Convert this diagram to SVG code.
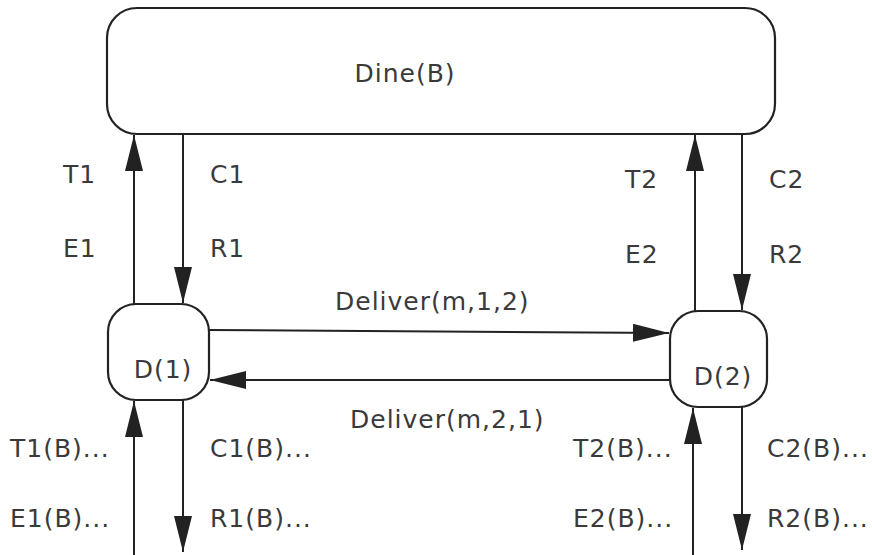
<svg xmlns="http://www.w3.org/2000/svg" width="872" height="555" viewBox="0 0 872 555">
<style>
.box{fill:#fff;stroke:#222;stroke-width:2.2}
.ln{stroke:#222;stroke-width:2;fill:none;marker-end:url(#ah)}
text{font-family:"DejaVu Sans","Liberation Sans",sans-serif;font-size:25px;fill:#3a3a3a;letter-spacing:1px}
.c{text-anchor:middle}
</style>
<defs>
<marker id="ah" markerUnits="userSpaceOnUse" markerWidth="36" markerHeight="18" refX="36" refY="9" orient="auto">
<path d="M0,0 L36,9 L0,18 z" fill="#222"/>
</marker>
</defs>
<rect width="872" height="555" fill="#fff"/>
<g id="dine"><rect class="box" x="107" y="8" width="668" height="126" rx="30"/><text class="c" x="405" y="82">Dine(B)</text></g>
<g id="d1"><rect class="box" x="108" y="304" width="101" height="96" rx="28"/><text class="c" x="163" y="378">D(1)</text></g>
<g id="d2"><rect class="box" x="670" y="311" width="97" height="96" rx="28"/><text class="c" x="723" y="385">D(2)</text></g>
<g id="connectors">
<line class="ln" x1="134" y1="304" x2="134" y2="135"/>
<line class="ln" x1="183" y1="134" x2="183" y2="303"/>
<line class="ln" x1="695" y1="311" x2="695" y2="135"/>
<line class="ln" x1="742" y1="134" x2="742" y2="310"/>
<line class="ln" x1="209" y1="330" x2="669" y2="333"/>
<line class="ln" x1="670" y1="380" x2="210" y2="380"/>
<line class="ln" x1="134" y1="555" x2="134" y2="401"/>
<line class="ln" x1="183" y1="400" x2="183" y2="552"/>
<line class="ln" x1="693" y1="555" x2="693" y2="408"/>
<line class="ln" x1="742" y1="407" x2="742" y2="550"/>
</g>
<g id="labels">
<text x="63" y="183">T1</text>
<text x="210" y="183">C1</text>
<text x="63" y="257">E1</text>
<text x="210" y="257">R1</text>
<text x="625" y="188">T2</text>
<text x="769" y="188">C2</text>
<text x="625" y="263">E2</text>
<text x="769" y="263">R2</text>
<text x="335" y="310">Deliver(m,1,2)</text>
<text x="350" y="428">Deliver(m,2,1)</text>
<text x="10" y="457">T1(B)...</text>
<text x="210" y="457">C1(B)...</text>
<text x="10" y="527">E1(B)...</text>
<text x="210" y="527">R1(B)...</text>
<text x="573" y="457">T2(B)...</text>
<text x="767" y="457">C2(B)...</text>
<text x="573" y="527">E2(B)...</text>
<text x="767" y="527">R2(B)...</text>
</g>
</svg>
